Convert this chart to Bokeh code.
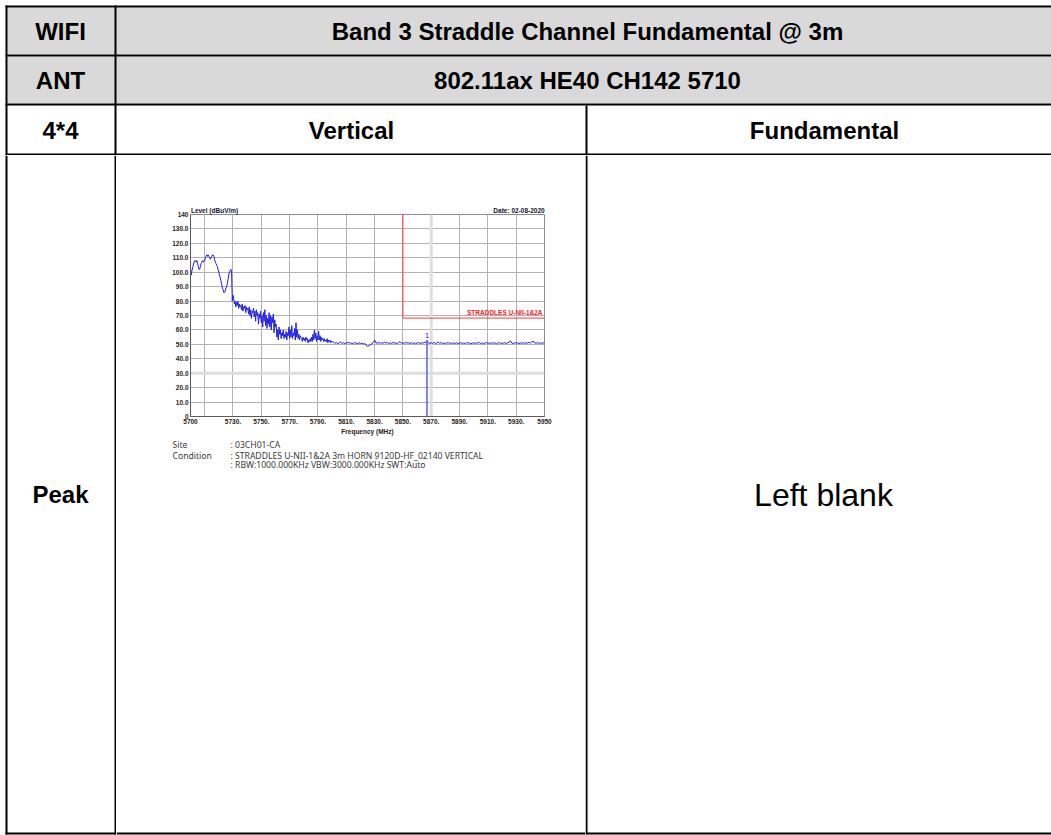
import numpy as np
from bokeh.plotting import figure
from bokeh.layouts import row, column
from bokeh.models import Range1d, FixedTicker, Span, LinearAxis
from bokeh.core.properties import value
from bokeh.embed import file_html
from bokeh.resources import INLINE

# ---------------- data ----------------
freq_fine = np.arange(5700.0, 5800.25, 0.5)      # 201 samples
freq_coarse = np.arange(5801.0, 5951.0, 1.0)     # 150 samples

level_fine = [
    103, 98, 101, 103, 105, 107, 108, 108, 107, 108,
    106, 104, 102, 102, 104, 106, 107, 108, 107, 108,
    108, 110, 111, 112, 111, 112, 111, 110, 109, 110,
    111, 112, 112, 111, 109, 107, 106, 105, 104, 102,
    100, 98, 96, 94, 92, 89, 88, 86, 86, 87,
    89, 90, 92, 95, 98, 100, 101, 102, 101, 80,
    84,
    82, 78, 80, 76, 79, 77, 80, 75, 78, 76,
    77, 74, 78, 73, 76, 75, 77, 72, 76, 74,
    75, 71, 76, 70, 74, 68, 73, 72, 75, 69,
    73, 66, 74, 70, 72, 64, 71, 68, 73, 65,
    70, 62, 72, 66, 74, 63, 70, 61, 68, 64,
    72, 62, 70, 60, 69, 65, 71, 58, 67, 62,
    64, 55, 60, 53, 62, 57, 60, 54, 58, 56,
    60, 54, 57, 55, 59, 53, 58, 56, 62, 54,
    60, 55, 63, 54, 58, 56, 61, 53, 65, 55,
    60, 54, 57, 53, 56, 55, 54, 52, 55, 53,
    54, 52, 55, 53, 54, 51, 53, 52, 54, 52,
    55, 52, 57, 53, 60, 54, 58, 52, 56, 53,
    59, 53, 56, 52, 55, 53, 54, 52, 54, 52,
    53, 52, 54, 51, 53, 52, 53, 51, 52, 52,
]
level_coarse = [
    51.5, 50.8, 51.2, 50.5, 51.0, 51.6, 50.7, 51.1, 50.4, 51.3,
    50.9, 51.4, 50.6, 51.0, 50.3, 51.2, 50.8, 50.5, 51.1, 50.6,
    50.9, 50.2, 50.7, 49.5, 48.6, 49.0, 49.8, 50.4, 51.2, 53.0,
    51.0, 50.8, 51.4, 50.6, 51.2, 50.7, 51.5, 50.9, 51.3, 50.5,
    51.1, 50.6, 51.4, 50.8, 51.0, 50.5, 51.3, 51.8, 50.7, 51.2,
    50.6, 51.4, 50.9, 51.1, 50.5, 51.2, 50.7, 51.0, 50.4, 50.9,
    51.3, 50.6, 51.0, 50.8, 51.4, 51.2, 52.6, 51.0, 50.6, 51.1,
    50.7, 51.3, 50.5, 51.0, 51.5, 50.8, 51.2, 50.6, 51.0, 50.4,
    50.9, 51.3, 50.6, 51.1, 50.5, 51.0, 50.7, 51.2, 50.4, 50.8,
    51.2, 50.6, 51.0, 50.5, 51.3, 50.8, 51.1, 50.3, 50.9, 51.0,
    50.5, 51.2, 50.8, 51.4, 50.6, 51.0, 50.4, 50.9, 51.3, 50.7,
    51.0, 50.5, 51.2, 50.8, 51.1, 50.4, 50.9, 51.3, 50.6, 51.0,
    50.7, 51.2, 50.5, 51.0, 51.5, 52.4, 50.9, 50.6, 51.1, 50.8,
    51.2, 50.5, 51.0, 50.7, 51.3, 50.6, 51.1, 50.8, 51.4, 50.9,
    51.6, 52.3, 51.0, 50.7, 51.2, 50.8, 51.0, 50.6, 51.1, 50.9,
]

limit_freq = [5850, 5850, 5950]
limit_level = [140, 68.2, 68.2]
limit_text = "STRADDLES U-NII-1&2A"

marker_freq = [5867]
marker_level = [52.6]
marker_text = ["1"]

x_ticks = [5700, 5730, 5750, 5770, 5790, 5810, 5830, 5850, 5870, 5890, 5910, 5930, 5950]
x_tick_labels = ["5700", "5730.", "5750.", "5770.", "5790.", "5810.", "5830.", "5850.",
                 "5870.", "5890.", "5910.", "5930.", "5950"]
x_grid = [5710, 5730, 5750, 5770, 5790, 5810, 5830, 5850, 5890, 5910, 5930]
y_ticks = [0, 10, 20, 30, 40, 50, 60, 70, 80, 90, 100, 110, 120, 130, 140]
y_tick_labels = ["0", "10.0", "20.0", "30.0", "40.0", "50.0", "60.0", "70.0", "80.0",
                 "90.0", "100.0", "110.0", "120.0", "130.0", "140"]
y_grid = [10, 20, 40, 50, 60, 70, 80, 90, 100, 110, 120, 130]
chart_titles = ["Level (dBuV/m)", "Date: 02-08-2020"]

header_rows = [("WIFI", "Band 3 Straddle Channel Fundamental @ 3m"),
               ("ANT", "802.11ax HE40 CH142 5710")]
col_heads = ["4*4", "Vertical", "Fundamental"]
row_head = "Peak"
blank_text = "Left blank"
site_keys = ["Site", "Condition", ""]
site_vals = [": 03CH01-CA",
             ": STRADDLES U-NII-1&2A 3m HORN 9120D-HF_02140 VERTICAL",
             ": RBW:1000.000KHz VBW:3000.000KHz SWT:Auto"]

FONT = "Liberation Sans"
W = 1051
HEAD_H = 155
BOT_H = 680
LEFT_W, MID_W = 116, 469
RIGHT_W = W - LEFT_W - MID_W
CH_H = 285
TX_H = BOT_H - CH_H
BB = 677  # top of bottom border inside the bottom row


def table_fig(w, h):
    p = figure(width=w, height=h, x_range=Range1d(0, w), y_range=Range1d(h, 0),
               output_backend="svg", toolbar_location=None,
               x_axis_location=None, y_axis_location=None, min_border=0)
    p.grid.visible = False
    p.outline_line_color = None
    p.background_fill_color = "white"
    p.border_fill_color = "white"
    return p


def bars(p, l, r, t, b):
    p.quad(left=l, right=r, top=t, bottom=b, fill_color="black", line_color=None)


# ---------------- header ----------------
hd = table_fig(W, HEAD_H)
hd.quad(left=[7, 7], right=[W, W], top=[7, 56], bottom=[54, 103],
        fill_color="#d9d9d9", line_color=None)
bars(hd, [5, 5, 5, 5], [W, W, W, W], [5, 54, 103, 153], [7, 56, 105, 155])
bars(hd, [5, 114, 585], [7, 116, 587], [5, 5, 105], [HEAD_H, HEAD_H, HEAD_H])
hd.text(x=[60, 587, 60, 587], y=[31, 31, 80, 80],
        text=[header_rows[0][0], header_rows[0][1], header_rows[1][0], header_rows[1][1]],
        text_font=value(FONT), text_font_style="bold", text_font_size="24px",
        text_align="center", text_baseline="middle", text_color="black")
hd.text(x=[60, 351, 824], y=[130, 130, 130], text=col_heads,
        text_font=value(FONT), text_font_style="bold", text_font_size="24px",
        text_align="center", text_baseline="middle", text_color="black")

# ---------------- left cell ----------------
lf = table_fig(LEFT_W, BOT_H)
bars(lf, [5, 114, 5], [7, 116, LEFT_W], [0, 0, BB], [BB + 2, BB + 2, BB + 2])
lf.text(x=[60], y=[339], text=[row_head], text_font=value(FONT), text_font_style="bold",
        text_font_size="24px", text_align="center", text_baseline="middle", text_color="black")

# ---------------- right cell ----------------
rf = table_fig(RIGHT_W, BOT_H)
bars(rf, [0, 0], [2, RIGHT_W], [0, BB], [BB + 2, BB + 2])
rf.text(x=[238], y=[339], text=[blank_text], text_font=value(FONT),
        text_font_size="32px", text_align="center", text_baseline="middle", text_color="black")

# ---------------- chart ----------------
c = figure(width=MID_W, height=CH_H, x_range=Range1d(5700, 5950), y_range=Range1d(0, 140),
           output_backend="svg", toolbar_location=None,
           min_border_left=74, min_border_right=41, min_border_top=59, min_border_bottom=24)
c.background_fill_color = "white"
c.border_fill_color = "white"
c.outline_line_color = "#8c8c8c"

c.add_layout(Span(location=30, dimension="width", line_color="#dedede", line_width=3, level="underlay"))
c.add_layout(Span(location=5870, dimension="height", line_color="#dedede", line_width=3, level="underlay"))

c.xaxis.ticker = FixedTicker(ticks=x_ticks)
c.xaxis.major_label_overrides = {t: s for t, s in zip(x_ticks, x_tick_labels)}
c.yaxis.ticker = FixedTicker(ticks=y_ticks)
c.yaxis.major_label_overrides = {t: s for t, s in zip(y_ticks, y_tick_labels)}
c.xgrid.ticker = FixedTicker(ticks=x_grid)
c.ygrid.ticker = FixedTicker(ticks=y_grid)
c.grid.grid_line_color = "#b2b2b2"
c.grid.grid_line_width = 1

# titles above the frame, carried by a bare top axis
title_pos = [5717, 5932]
top_ax = LinearAxis(ticker=FixedTicker(ticks=title_pos),
                    major_label_overrides={t: s for t, s in zip(title_pos, chart_titles)})
c.add_layout(top_ax, "above")

c.axis.axis_line_color = "#5a5a5a"
c.axis.major_tick_out = 0
c.axis.major_tick_in = 0
c.axis.minor_tick_out = 0
c.axis.minor_tick_in = 0
c.axis.major_label_text_font = FONT
c.axis.major_label_text_font_style = "bold"
c.axis.major_label_text_font_size = "6.5px"
c.xaxis.major_label_text_color = "#2b2118"
c.yaxis.major_label_text_color = "#2b2118"
c.xaxis.major_label_standoff = 2
c.yaxis.major_label_standoff = 2
top_ax.axis_line_color = None
top_ax.major_label_standoff = 1
top_ax.major_label_text_color = "#14142e"
c.below[0].axis_label = "Frequency (MHz)"
c.below[0].axis_label_text_font = FONT
c.below[0].axis_label_text_font_style = "bold"
c.below[0].axis_label_text_font_size = "6.5px"
c.below[0].axis_label_text_color = "#2b2118"
c.below[0].axis_label_standoff = 1

c.line(x=list(freq_fine) + list(freq_coarse), y=level_fine + level_coarse,
       line_color="#1f1fe6", line_width=1)
c.line(x=limit_freq, y=limit_level, line_color="#ff3b3b", line_width=1)
c.text(x=[limit_freq[-1]], y=[limit_level[-1]], text=[limit_text], x_offset=-2, y_offset=-2,
       text_font=value(FONT), text_font_style="bold", text_font_size="6.5px",
       text_color="#ff2020", text_align="right", text_baseline="bottom")
c.segment(x0=marker_freq, y0=[0], x1=marker_freq, y1=marker_level,
          line_color="#5a5aff", line_width=1.5)
c.text(x=marker_freq, y=marker_level, text=marker_text, y_offset=-3,
       text_font=value(FONT), text_font_size="7.5px", text_color="#2020ff",
       text_align="center", text_baseline="bottom")

# ---------------- text under chart ----------------
tf = table_fig(MID_W, TX_H)
bars(tf, [0], [MID_W], [TX_H - 3], [TX_H - 1])
tf.text(x=[56, 56, 56], y=[4.5, 15.5, 24.5], text=site_keys, text_font=value("Noto Sans"),
        text_font_size="8.6px", text_color="#3a3a3a", text_align="left", text_baseline="middle")
tf.text(x=[114, 114, 114], y=[4.5, 15.5, 24.5], text=site_vals, text_font=value("Noto Sans"),
        text_font_size="8.6px", text_color="#3a3a3a", text_align="left", text_baseline="middle")

for f in (hd, lf, rf, c, tf):
    try:
        f.frame_align = False
    except Exception:
        pass

layout = column(hd, row(lf, column(c, tf), rf))

with open("out.html", "w") as fh:
    fh.write(file_html(layout, INLINE))
